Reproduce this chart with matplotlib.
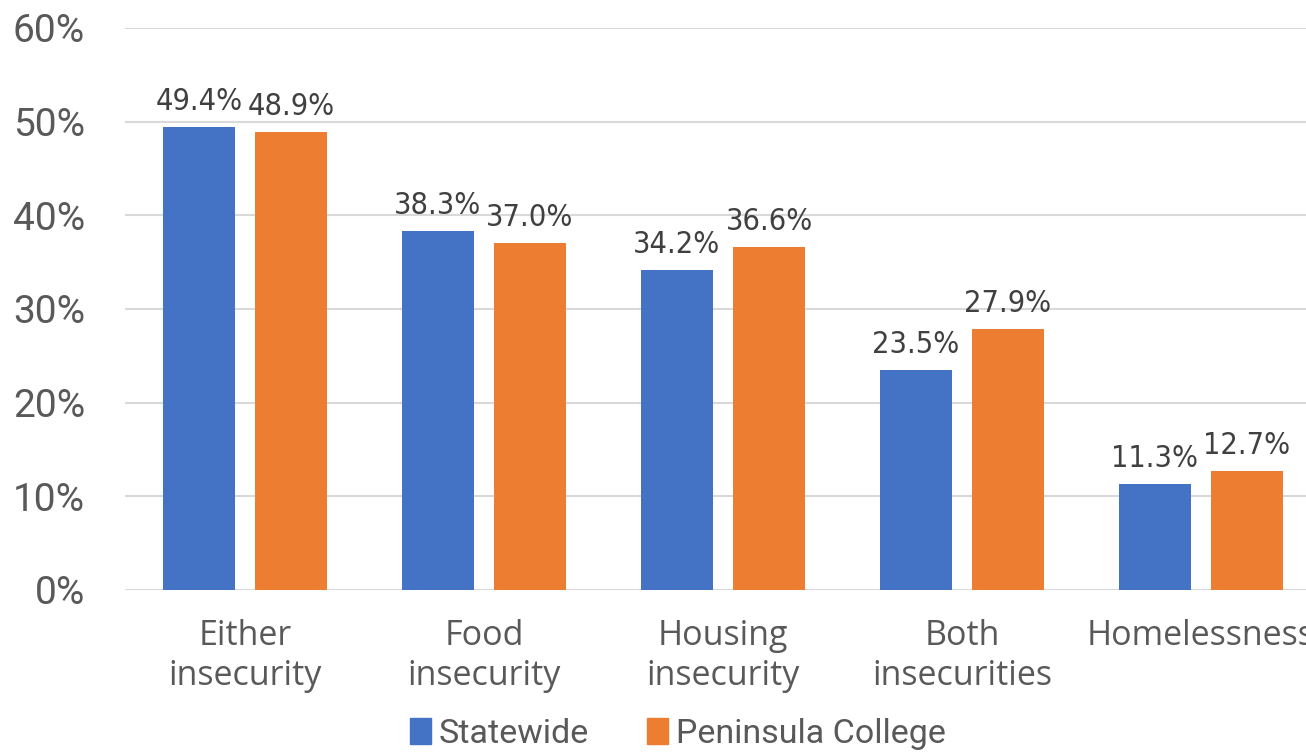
import numpy as np
import matplotlib
matplotlib.use("Agg")
import matplotlib.pyplot as plt
from matplotlib.patches import Patch

categories = ["Either\ninsecurity", "Food\ninsecurity", "Housing\ninsecurity",
              "Both\ninsecurities", "Homelessness"]
statewide = [49.4, 38.3, 34.2, 23.5, 11.3]
peninsula = [48.9, 37.0, 36.6, 27.9, 12.7]
series_names = ["Statewide", "Peninsula College"]
y_ticks = [0, 10, 20, 30, 40, 50, 60]

BLUE = "#4472C4"
ORANGE = "#ED7D31"
TICK_GREY = "#595959"
LABEL_GREY = "#404040"
GRID = "#D9D9D9"

NARROW = ["Roboto", "DejaVu Sans"]
SANS = ["Open Sans", "DejaVu Sans"]

fig = plt.figure(figsize=(13.06, 7.52), dpi=100)
ax = fig.add_axes([125.5 / 1306, 162 / 752, 1195 / 1306, 562 / 752])

x = np.arange(len(categories))
bw = 0.305
off = 0.1925
b1 = ax.bar(x - off, statewide, bw, color=BLUE, zorder=3)
b2 = ax.bar(x + off, peninsula, bw, color=ORANGE, zorder=3)

for bars, vals in ((b1, statewide), (b2, peninsula)):
    for rect, v in zip(bars, vals):
        ax.annotate(f"{v:.1f}%", (rect.get_x() + rect.get_width() / 2, v),
                    xytext=(0, 12.2), textcoords="offset points",
                    ha="center", va="baseline", fontsize=22,
                    color=LABEL_GREY, family="DejaVu Sans", stretch="condensed",
                    annotation_clip=False)

ax.set_xlim(-0.5, len(categories) - 0.5)
ax.set_ylim(0, 60)
ax.set_yticks(y_ticks)
ax.set_yticklabels([f"{t}%" for t in y_ticks], family=NARROW, fontsize=28,
                   color=TICK_GREY)
ax.set_xticks(x)
ax.set_xticklabels(categories, family=SANS, fontsize=24.5, color=TICK_GREY,
                   linespacing=1.24)
ax.tick_params(axis="both", length=0)
ax.tick_params(axis="y", pad=29)
ax.tick_params(axis="x", pad=21)

ax.yaxis.grid(True, color=GRID, linewidth=1.5, zorder=0)
ax.set_axisbelow(True)
for s in ax.spines.values():
    s.set_visible(False)

handles = [Patch(color=BLUE), Patch(color=ORANGE)]
fig.legend(handles, series_names, loc="center", bbox_to_anchor=(678 / 1306, 1 - 734 / 752),
           ncol=2, frameon=False, prop={"family": NARROW, "size": 24.5},
           labelcolor=TICK_GREY, handlelength=0.6, handleheight=0.8,
           handletextpad=0.25, columnspacing=1.7, borderaxespad=0, borderpad=0)

fig.savefig("out.png", dpi=100)
